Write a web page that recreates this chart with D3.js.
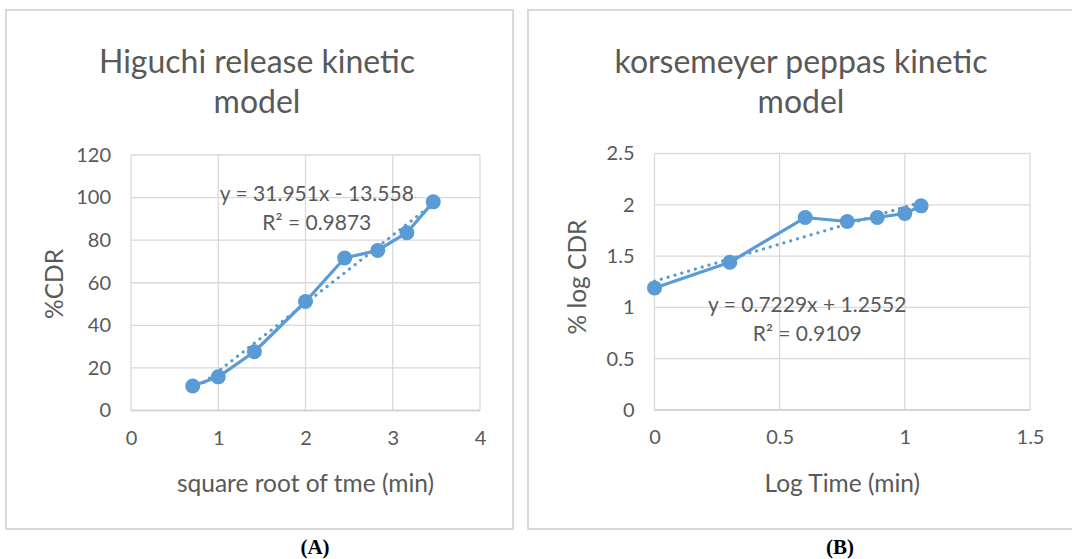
<!DOCTYPE html>
<html>
<head>
<meta charset="utf-8">
<script src="https://cdn.jsdelivr.net/npm/d3@7"></script>
<style>
  body { margin: 0; background: #fff; }
  text { font-family: Lato, "Open Sans", sans-serif; fill: #595959; }
</style>
</head>
<body>
<div id="chart"></div>
<script>
// data
var higuchiX = [0.707, 1, 1.414, 2, 2.449, 2.828, 3.162, 3.464];
var higuchiY = [11.5, 15.8, 27.6, 51.2, 71.6, 75.2, 83.5, 98.0];
var higuchiFit = {slope: 31.951, intercept: -13.558, r2: "0.9873"};
var higuchiXTicks = [0, 1, 2, 3, 4];
var higuchiYTicks = [0, 20, 40, 60, 80, 100, 120];

var peppasX = [0, 0.301, 0.602, 0.77, 0.89, 1.0, 1.065];
var peppasY = [1.19, 1.44, 1.876, 1.837, 1.876, 1.915, 1.99];
var peppasFit = {slope: 0.7229, intercept: 1.2552, r2: "0.9109"};
var peppasXTicks = [0, 0.5, 1, 1.5];
var peppasYTicks = [0, 0.5, 1, 1.5, 2, 2.5];

var blue = "#5b9bd5";
var grid = "#d9d9d9";

var svg = d3.select("#chart")
  .append("svg")
  .attr("width", 1072)
  .attr("height", 559);

svg.append("rect")
  .attr("width", 1072).attr("height", 559)
  .attr("fill", "#fff");

function drawPanel(p) {
  // outer chart border
  svg.append("rect")
    .attr("x", p.box[0]).attr("y", p.box[1])
    .attr("width", p.box[2]).attr("height", p.box[3])
    .attr("fill", "#fff")
    .attr("stroke", grid)
    .attr("stroke-width", 2);

  var x = d3.scaleLinear()
    .domain(d3.extent(p.xTicks))
    .range([p.plot.left, p.plot.right]);
  var y = d3.scaleLinear()
    .domain(d3.extent(p.yTicks))
    .range([p.plot.bottom, p.plot.top]);

  // gridlines
  svg.append("g").selectAll("line")
    .data(p.yTicks)
    .join("line")
      .attr("x1", p.plot.left).attr("x2", p.plot.right)
      .attr("y1", function(d) { return y(d); })
      .attr("y2", function(d) { return y(d); })
      .attr("stroke", grid)
      .attr("stroke-width", 1.3);
  svg.append("g").selectAll("line")
    .data(p.xTicks)
    .join("line")
      .attr("y1", p.plot.top).attr("y2", p.plot.bottom)
      .attr("x1", function(d) { return x(d); })
      .attr("x2", function(d) { return x(d); })
      .attr("stroke", grid)
      .attr("stroke-width", 1.3);

  // axes (labels only, Excel style)
  var yAxis = svg.append("g")
    .attr("transform", "translate(" + p.plot.left + ",0)")
    .call(d3.axisLeft(y).tickValues(p.yTicks).tickSize(0).tickPadding(20)
      .tickFormat(d3.format("")));
  var xAxis = svg.append("g")
    .attr("transform", "translate(0," + p.plot.bottom + ")")
    .call(d3.axisBottom(x).tickValues(p.xTicks).tickSize(0).tickPadding(20)
      .tickFormat(d3.format("")));
  [xAxis, yAxis].forEach(function(a) {
    a.select(".domain").remove();
    a.selectAll("text")
      .attr("fill", "#595959")
      .style("font-family", "Lato, 'Open Sans', sans-serif")
      .style("font-size", "20px");
  });
  svg.append("line")
    .attr("x1", p.plot.left).attr("x2", p.plot.right)
    .attr("y1", p.plot.bottom).attr("y2", p.plot.bottom)
    .attr("stroke", "#d0d0d0")
    .attr("stroke-width", 1.5);

  // title
  svg.append("text")
    .attr("text-anchor", "middle")
    .style("font-size", "32px")
    .selectAll("tspan")
    .data(p.title)
    .join("tspan")
      .attr("x", p.titleX)
      .attr("y", function(d, i) { return 73 + i * 40; })
      .text(function(d) { return d; });

  // axis titles
  svg.append("text")
    .attr("x", (p.plot.left + p.plot.right) / 2)
    .attr("y", 492)
    .attr("text-anchor", "middle")
    .style("font-size", "24.5px")
    .text(p.xLabel);
  svg.append("text")
    .attr("transform", "translate(" + p.yLabelX + "," + p.yLabelY + ") rotate(-90)")
    .attr("text-anchor", "middle")
    .style("font-size", "24.5px")
    .text(p.yLabel);

  // trendline (dotted), from the fitted equation
  var xr = d3.extent(p.xs);
  var trend = xr.map(function(v) { return [v, p.fit.slope * v + p.fit.intercept]; });
  svg.append("path")
    .datum(trend)
    .attr("fill", "none")
    .attr("stroke", blue)
    .attr("stroke-width", 3.2)
    .attr("stroke-linecap", "round")
    .attr("stroke-dasharray", "0.1,7")
    .attr("d", d3.line()
      .x(function(d) { return x(d[0]); })
      .y(function(d) { return y(d[1]); }));

  // series line + markers
  var pts = p.xs.map(function(v, i) { return [v, p.ys[i]]; });
  svg.append("path")
    .datum(pts)
    .attr("fill", "none")
    .attr("stroke", blue)
    .attr("stroke-width", 3.2)
    .attr("stroke-linejoin", "round")
    .attr("d", d3.line()
      .x(function(d) { return x(d[0]); })
      .y(function(d) { return y(d[1]); }));
  svg.append("g").selectAll("circle")
    .data(pts)
    .join("circle")
      .attr("cx", function(d) { return x(d[0]); })
      .attr("cy", function(d) { return y(d[1]); })
      .attr("r", 7.5)
      .attr("fill", blue);

  // equation label
  var sign = p.fit.intercept < 0 ? " - " : " + ";
  var eq = svg.append("text")
    .attr("text-anchor", "middle")
    .style("font-size", "21px");
  eq.append("tspan")
    .attr("x", x(p.eqPos[0])).attr("y", y(p.eqPos[1]))
    .text("y = " + p.fit.slope + "x" + sign + Math.abs(p.fit.intercept));
  eq.append("tspan")
    .attr("x", x(p.eqPos[0])).attr("dy", 29)
    .text("R\u00b2 = " + p.fit.r2);

  // panel letter
  svg.append("text")
    .attr("x", p.letterX).attr("y", 554)
    .attr("text-anchor", "middle")
    .style("font-family", "'Liberation Serif', 'Times New Roman', serif")
    .style("font-weight", "bold")
    .style("font-size", "21px")
    .style("fill", "#000")
    .text(p.letter);
}

drawPanel({
  box: [6, 10, 507, 519],
  plot: {left: 131, right: 480, top: 155, bottom: 410.5},
  xs: higuchiX, ys: higuchiY, fit: higuchiFit,
  xTicks: higuchiXTicks, yTicks: higuchiYTicks,
  title: ["Higuchi release kinetic", "model"], titleX: 257,
  xLabel: "square root of tme (min)",
  yLabel: "%CDR", yLabelX: 63, yLabelY: 284,
  eqPos: [2.13, 98.5], letter: "(A)", letterX: 315
});

drawPanel({
  box: [528, 10, 560, 519],
  plot: {left: 654.5, right: 1030, top: 153.5, bottom: 410},
  xs: peppasX, ys: peppasY, fit: peppasFit,
  xTicks: peppasXTicks, yTicks: peppasYTicks,
  title: ["korsemeyer peppas kinetic", "model"], titleX: 801,
  xLabel: "Log Time (min)",
  yLabel: "% log CDR", yLabelX: 586, yLabelY: 277,
  eqPos: [0.61, 0.955], letter: "(B)", letterX: 840
});
</script>
</body>
</html>
